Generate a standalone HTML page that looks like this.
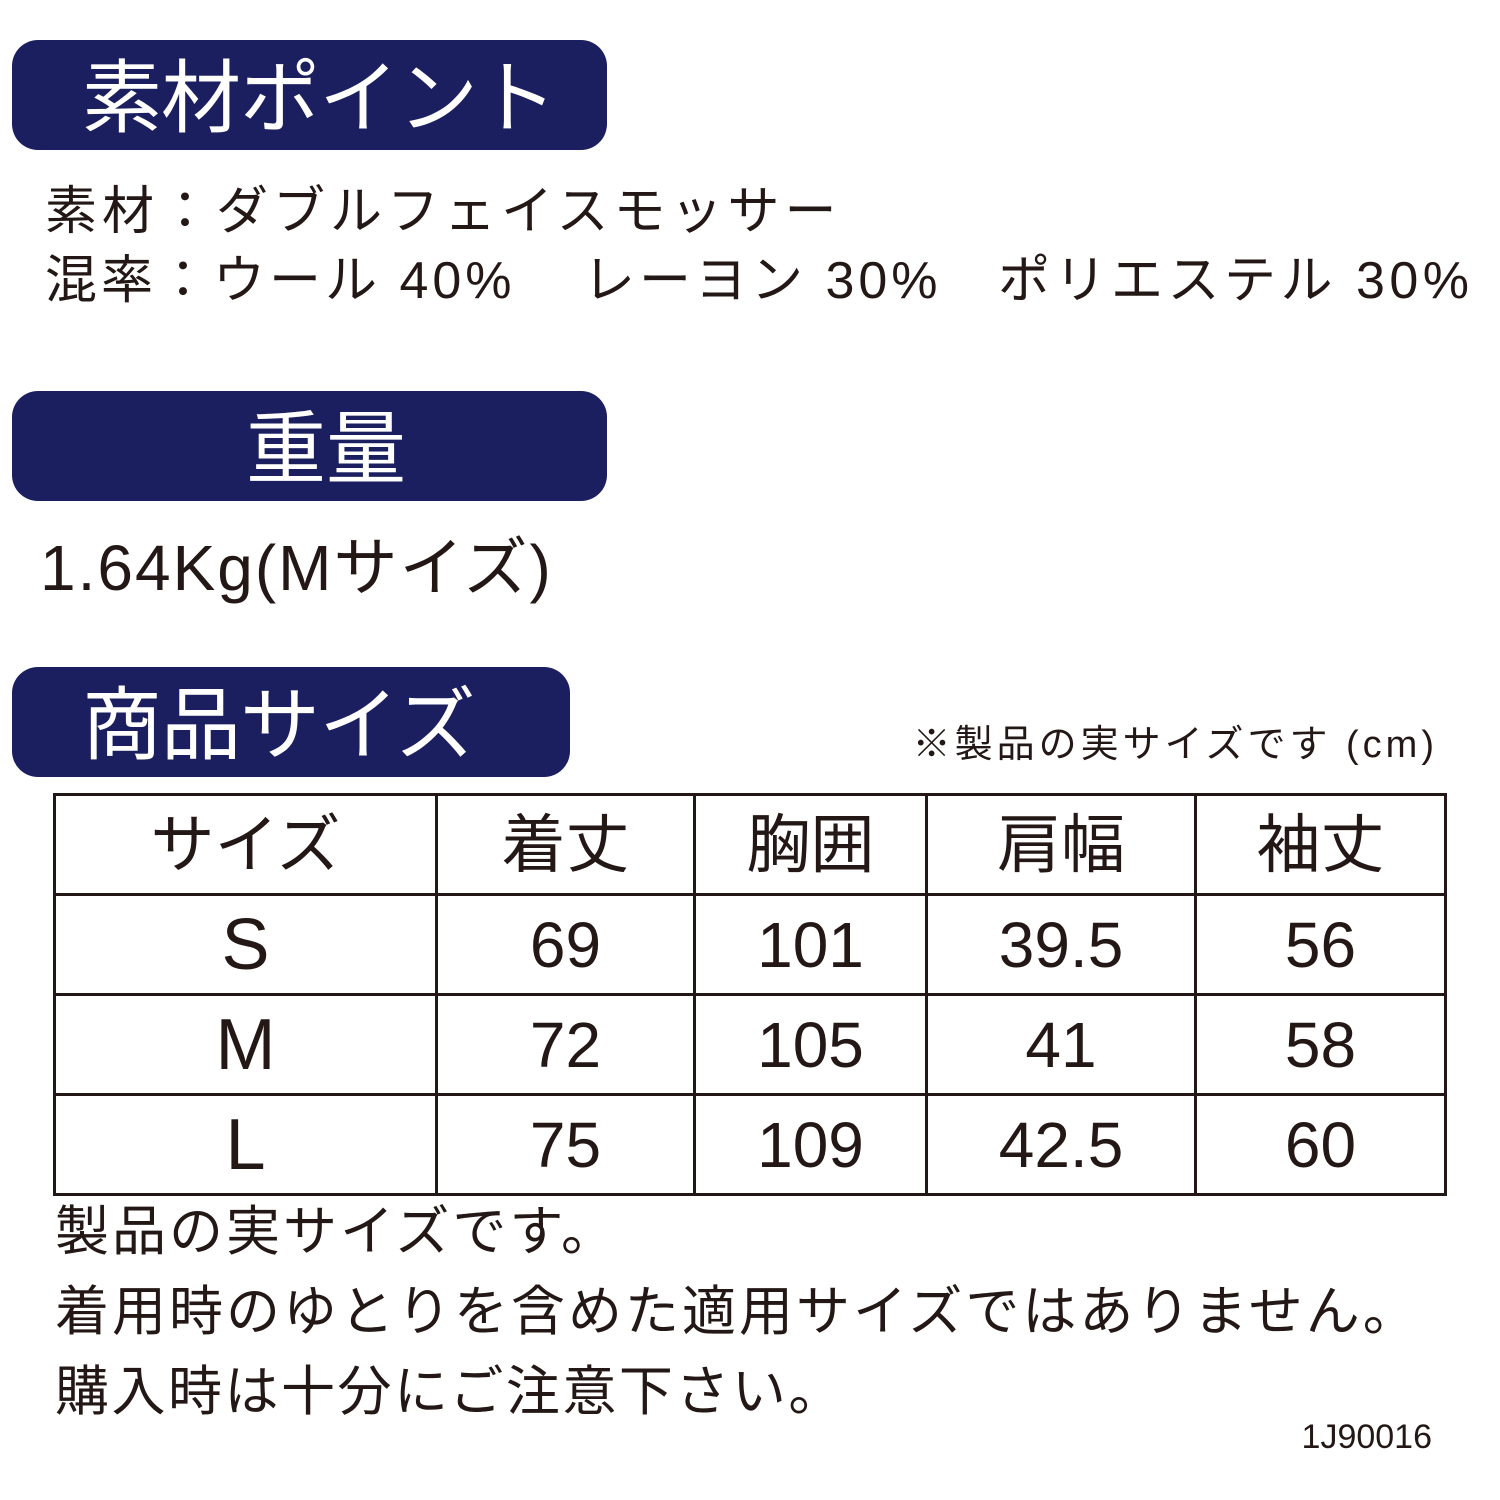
<!DOCTYPE html>
<html><head><meta charset="utf-8"><style>
body{margin:0;width:1500px;height:1500px;background:#fff;position:relative;overflow:hidden;font-family:"Liberation Sans","Noto Sans CJK JP",sans-serif;color:#231815}
.h{position:absolute;background:#1b1f5f;border-radius:26px;color:#fff;font-size:80px;line-height:110px;height:110px}
.t{position:absolute;white-space:nowrap;line-height:1}
table{position:absolute;left:53px;top:793px;border-collapse:collapse}
td{border:3px solid #231815;height:97px;padding:0;text-align:center;font-size:64px;line-height:1}
</style></head><body>
<div class="h" style="left:12px;top:40px;width:595px"><span style="position:absolute;left:70px;top:4px;letter-spacing:-1px">素材ポイント</span></div>
<div class="t" style="left:45px;top:186px;font-size:52px;letter-spacing:5px">素材：ダブルフェイスモッサー</div>
<div class="t" style="left:45px;top:255px;font-size:52px;letter-spacing:4px">混率：ウール 40%</div>
<div class="t" style="left:583px;top:255px;font-size:52px;letter-spacing:4px">レーヨン 30%</div>
<div class="t" style="left:998px;top:255px;font-size:52px;letter-spacing:4.5px">ポリエステル 30%</div>
<div class="h" style="left:12px;top:391px;width:595px"><span style="position:absolute;left:234px;top:4px">重量</span></div>
<div class="t" style="left:40px;top:536px;font-size:64px;letter-spacing:2px">1.64Kg(Mサイズ)</div>
<div class="h" style="left:12px;top:667px;width:558px"><span style="position:absolute;left:70px;top:4px;letter-spacing:-1px">商品サイズ</span></div>
<div class="t" style="right:62px;top:726px;font-size:38px;letter-spacing:4px">※製品の実サイズです (cm)</div>
<table>
<tr><td style="width:379px">サイズ</td><td style="width:255px">着丈</td><td style="width:229px">胸囲</td><td style="width:266px">肩幅</td><td style="width:247px">袖丈</td></tr>
<tr><td style="font-size:72px">S</td><td>69</td><td>101</td><td>39.5</td><td>56</td></tr>
<tr><td style="font-size:72px">M</td><td>72</td><td>105</td><td>41</td><td>58</td></tr>
<tr><td style="font-size:72px">L</td><td>75</td><td>109</td><td>42.5</td><td>60</td></tr>
</table>
<div class="t" style="left:55px;top:1205px;font-size:54px;letter-spacing:3px">製品の実サイズです。</div>
<div class="t" style="left:55px;top:1285px;font-size:54px;letter-spacing:3px">着用時のゆとりを含めた適用サイズではありません。</div>
<div class="t" style="left:55px;top:1365px;font-size:54px;letter-spacing:2.5px">購入時は十分にご注意下さい。</div>
<div class="t" style="right:68px;top:1420px;font-size:34px">1J90016</div>
</body></html>
